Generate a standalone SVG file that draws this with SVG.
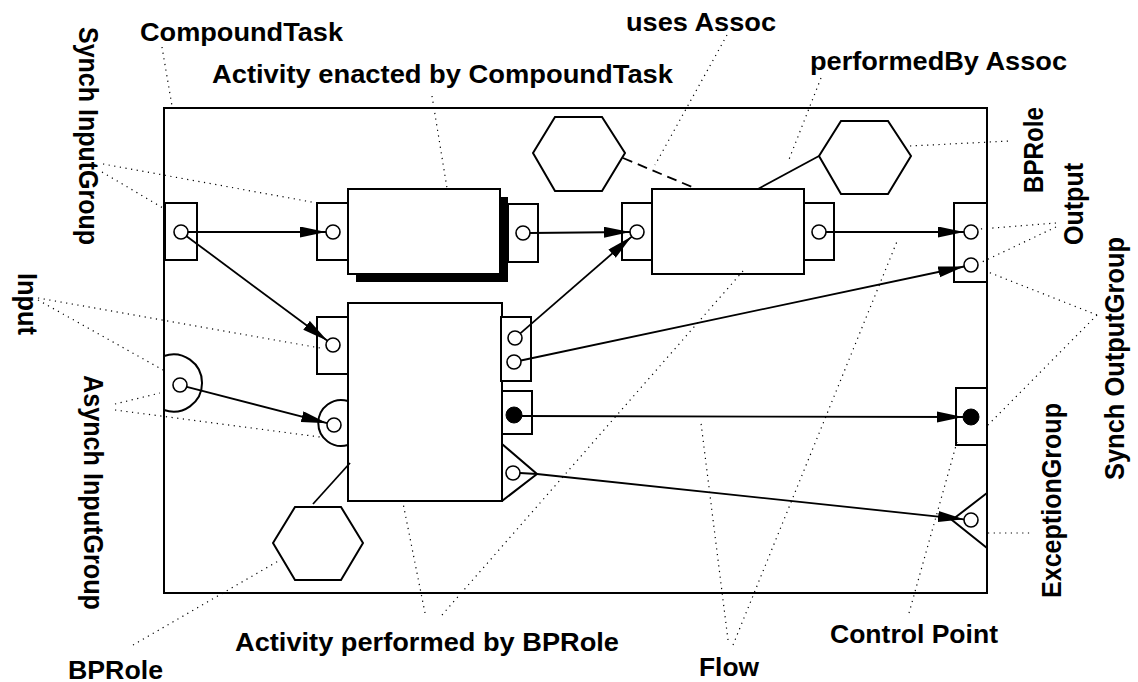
<svg xmlns="http://www.w3.org/2000/svg" width="1138" height="682" viewBox="0 0 1138 682">
  <style>
    .box { fill: #fff; stroke: #000; stroke-width: 2; }
    .open { fill: none; stroke: #000; stroke-width: 2; }
    .port { fill: #fff; stroke: #000; stroke-width: 1.6; }
    .dot { fill: #000; stroke: #000; stroke-width: 1; }
    .flow { fill: none; stroke: #000; stroke-width: 1.8; }
    .leader { fill: none; stroke: #000; stroke-width: 1.2; stroke-dasharray: 1.2 4.5; }
    .dash { fill: none; stroke: #000; stroke-width: 1.8; stroke-dasharray: 10 6; }
    .lbl { font-family: "Liberation Sans", Arial, sans-serif; font-weight: bold; font-size: 25px; fill: #000; }
  </style>
  <defs>
    <marker id="arrow" markerUnits="userSpaceOnUse" markerWidth="27" markerHeight="12" refX="26" refY="5.5" orient="auto">
      <path d="M0,0 L26,5.5 L0,11 Z" fill="#000"/>
    </marker>
  </defs>

  <!-- CompoundTask frame -->
  <g id="compound-task">
    <rect x="164" y="108" width="823" height="485" class="open"/>
  </g>

  <!-- frame input ports -->
  <g id="frame-synch-input">
    <rect x="165" y="203" width="32" height="57" class="box"/>
    <circle cx="181" cy="232" r="7" class="port"/>
  </g>
  <g id="frame-asynch-input">
    <path d="M164,356 A28.6,28.6 0 1 1 164,410" class="open"/>
    <circle cx="180" cy="385" r="7" class="port"/>
  </g>

  <!-- frame output ports -->
  <g id="frame-synch-output">
    <rect x="954" y="203" width="33" height="79" class="box"/>
    <circle cx="971" cy="232" r="7" class="port"/>
    <circle cx="971" cy="265" r="7" class="port"/>
  </g>
  <g id="frame-control-point">
    <rect x="956" y="388" width="31" height="57" class="box"/>
    <circle cx="971" cy="417" r="8" class="dot"/>
  </g>
  <g id="frame-exception">
    <path d="M987,493 L952,520 L987,548" class="open"/>
    <circle cx="971" cy="520" r="7" class="port"/>
  </g>

  <!-- activity enacted by the CompoundTask (with shadow) -->
  <g id="enacted-activity">
    <rect x="356" y="197" width="152" height="85" fill="#000"/>
    <rect x="348" y="189" width="152" height="85" class="box"/>
    <rect x="317" y="203" width="31" height="57" class="box"/>
    <circle cx="333" cy="232" r="7" class="port"/>
    <rect x="508" y="204" width="30" height="58" class="box"/>
    <circle cx="523" cy="233" r="7" class="port"/>
  </g>

  <!-- activity using the left role -->
  <g id="uses-activity">
    <rect x="652" y="189" width="152" height="85" class="box"/>
    <rect x="622" y="203" width="30" height="57" class="box"/>
    <circle cx="637" cy="232" r="7" class="port"/>
    <rect x="804" y="203" width="30" height="57" class="box"/>
    <circle cx="819" cy="232" r="7" class="port"/>
  </g>

  <!-- activity performed by BPRole -->
  <g id="performed-activity">
    <rect x="348" y="303" width="154" height="198" class="box"/>
    <rect x="317" y="317" width="31" height="57" class="box"/>
    <circle cx="333" cy="345" r="7" class="port"/>
    <path d="M348,401 A23,23 0 1 0 348,445" class="open"/>
    <circle cx="334" cy="425" r="7" class="port"/>
    <rect x="501" y="317" width="30" height="64" class="box"/>
    <circle cx="515" cy="338" r="7" class="port"/>
    <circle cx="514" cy="362" r="7" class="port"/>
    <rect x="502" y="391" width="30" height="43" class="box"/>
    <circle cx="514" cy="415" r="8" class="dot"/>
    <path d="M502,444 L537,474 L502,501" class="open"/>
    <circle cx="513" cy="473" r="7" class="port"/>
  </g>

  <!-- roles -->
  <g id="role-uses">
    <polygon points="533,153 555,117 602,117 625,153 602,191 555,191" class="box"/>
  </g>
  <g id="role-performer-top">
    <polygon points="819,156 841,121 888,121 911,156 888,194 841,194" class="box"/>
  </g>
  <g id="role-performer-bottom">
    <polygon points="273,543 295,507 341,507 363,543 341,580 295,580" class="box"/>
  </g>

  <!-- flows and associations -->
  <g id="connectors">
    <line x1="188" y1="232" x2="326" y2="232" class="flow" marker-end="url(#arrow)"/>
    <line x1="186.6" y1="236.2" x2="327.4" y2="340.8" class="flow" marker-end="url(#arrow)"/>
    <line x1="530" y1="233" x2="630" y2="232" class="flow" marker-end="url(#arrow)"/>
    <line x1="520.3" y1="333.4" x2="631.7" y2="236.6" class="flow" marker-end="url(#arrow)"/>
    <line x1="826" y1="232" x2="964" y2="232" class="flow" marker-end="url(#arrow)"/>
    <line x1="520.9" y1="360.5" x2="964.2" y2="266.5" class="flow" marker-end="url(#arrow)"/>
    <line x1="186.8" y1="386.8" x2="327.2" y2="423.2" class="flow" marker-end="url(#arrow)"/>
    <line x1="522" y1="416" x2="963" y2="417" class="flow" marker-end="url(#arrow)"/>
    <line x1="520" y1="473" x2="537" y2="474" class="flow"/>
    <line x1="537" y1="474" x2="964" y2="519.3" class="flow" marker-end="url(#arrow)"/>
    <line x1="623" y1="158" x2="697" y2="189" class="dash"/>
    <line x1="819" y1="156" x2="758" y2="189" class="flow"/>
    <line x1="313" y1="504" x2="350" y2="463" class="flow"/>
  </g>

  <!-- label leaders -->
  <g id="leaders">
    <line x1="162" y1="47" x2="172" y2="106" class="leader"/>
    <line x1="432" y1="96" x2="447" y2="188" class="leader"/>
    <line x1="727" y1="35" x2="655" y2="165" class="leader"/>
    <line x1="821" y1="78" x2="788" y2="162" class="leader"/>
    <line x1="910" y1="146" x2="1010" y2="141" class="leader"/>
    <line x1="1056" y1="223" x2="980" y2="229" class="leader"/>
    <line x1="1056" y1="227" x2="982" y2="262" class="leader"/>
    <line x1="1097" y1="315" x2="988" y2="272" class="leader"/>
    <line x1="1097" y1="315" x2="988" y2="425" class="leader"/>
    <line x1="988" y1="533" x2="1033" y2="533" class="leader"/>
    <line x1="909" y1="613" x2="957" y2="442" class="leader"/>
    <line x1="728" y1="640" x2="701" y2="423" class="leader"/>
    <line x1="733" y1="645" x2="898" y2="239" class="leader"/>
    <line x1="425" y1="613" x2="403" y2="503" class="leader"/>
    <line x1="442" y1="615" x2="743" y2="271" class="leader"/>
    <line x1="133" y1="645" x2="280" y2="560" class="leader"/>
    <line x1="115" y1="404" x2="160" y2="393" class="leader"/>
    <line x1="115" y1="410" x2="320" y2="437" class="leader"/>
    <line x1="38" y1="298" x2="320" y2="348" class="leader"/>
    <line x1="38" y1="300" x2="163" y2="370" class="leader"/>
    <line x1="103" y1="164" x2="317" y2="203" class="leader"/>
    <line x1="102" y1="172" x2="163" y2="208" class="leader"/>
  </g>

  <!-- labels -->
  <g id="labels">
    <text class="lbl" x="140" y="41" textLength="203" lengthAdjust="spacingAndGlyphs">CompoundTask</text>
    <text class="lbl" x="212" y="83" textLength="461" lengthAdjust="spacingAndGlyphs">Activity enacted by CompoundTask</text>
    <text class="lbl" x="626" y="31" textLength="150" lengthAdjust="spacingAndGlyphs">uses Assoc</text>
    <text class="lbl" x="810" y="70" textLength="257" lengthAdjust="spacingAndGlyphs">performedBy Assoc</text>
    <text class="lbl" x="235" y="651" textLength="384" lengthAdjust="spacingAndGlyphs">Activity performed by BPRole</text>
    <text class="lbl" x="68" y="679" textLength="95" lengthAdjust="spacingAndGlyphs">BPRole</text>
    <text class="lbl" x="699" y="676" textLength="60" lengthAdjust="spacingAndGlyphs">Flow</text>
    <text class="lbl" x="830" y="643" textLength="168" lengthAdjust="spacingAndGlyphs">Control Point</text>
    <text class="lbl" transform="translate(79,27) scale(1.08,1) rotate(90)" textLength="218" lengthAdjust="spacingAndGlyphs">Synch InputGroup</text>
    <text class="lbl" transform="translate(18,273) scale(1.08,1) rotate(90)" textLength="62" lengthAdjust="spacingAndGlyphs">Input</text>
    <text class="lbl" transform="translate(84,375) scale(1.08,1) rotate(90)" textLength="235" lengthAdjust="spacingAndGlyphs">Asynch InputGroup</text>
    <text class="lbl" transform="translate(1043,193) scale(1.08,1) rotate(-90)" textLength="86" lengthAdjust="spacingAndGlyphs">BPRole</text>
    <text class="lbl" transform="translate(1083,245) scale(1.08,1) rotate(-90)" textLength="82" lengthAdjust="spacingAndGlyphs">Output</text>
    <text class="lbl" transform="translate(1124,480) scale(1.08,1) rotate(-90)" textLength="243" lengthAdjust="spacingAndGlyphs">Synch OutputGroup</text>
    <text class="lbl" transform="translate(1061,598) scale(1.08,1) rotate(-90)" textLength="195" lengthAdjust="spacingAndGlyphs">ExceptionGroup</text>
  </g>
</svg>
